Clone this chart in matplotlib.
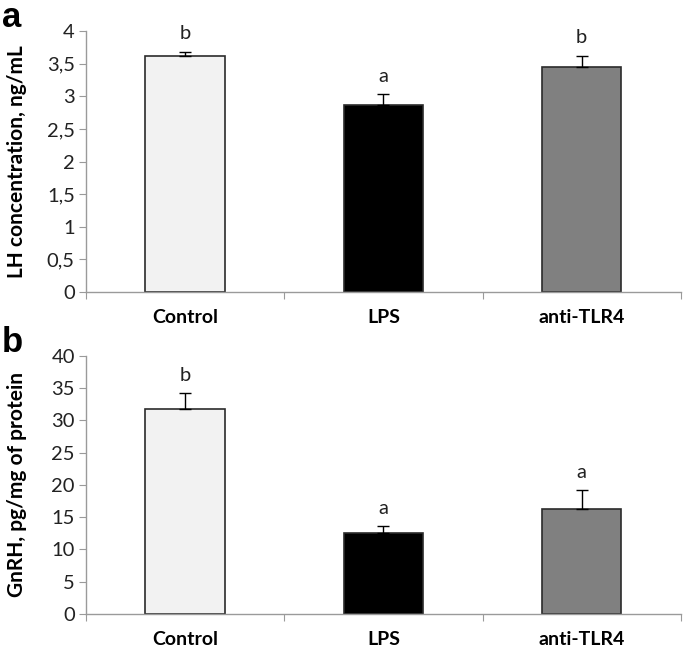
import matplotlib
matplotlib.use("Agg")
import matplotlib.pyplot as plt
import numpy as np

categories = ["Control", "LPS", "anti-TLR4"]
lh_values = [3.62, 2.86, 3.45]
lh_errors = [0.06, 0.17, 0.17]
lh_letters = ["b", "a", "b"]
gnrh_values = [31.8, 12.5, 16.3]
gnrh_errors = [2.5, 1.2, 2.9]
gnrh_letters = ["b", "a", "a"]
lh_ticks = [0, 0.5, 1, 1.5, 2, 2.5, 3, 3.5, 4]
lh_ticklabels = ["0", "0,5", "1", "1,5", "2", "2,5", "3", "3,5", "4"]
gnrh_ticks = [0, 5, 10, 15, 20, 25, 30, 35, 40]
gnrh_ticklabels = [str(t) for t in gnrh_ticks]

colors = ["#f2f2f2", "#000000", "#808080"]
font = ["Lato", "DejaVu Sans"]
plt.rcParams["font.family"] = font

fig = plt.figure(figsize=(6.85, 6.52), dpi=100)

def panel(rect, vals, errs, letters, ticks, ticklabels, ymax, ylabel, offset):
    ax = fig.add_axes(rect)
    x = np.arange(len(categories)) + 0.5
    ax.bar(x, vals, width=0.4, color=colors, edgecolor="#2b2b2b", linewidth=1.2, zorder=2)
    ax.errorbar(x, vals, yerr=[np.zeros(len(errs)), errs], fmt="none", ecolor="black",
                elinewidth=1.0, capsize=4, capthick=1.0, zorder=3)
    for xi, v, e, l in zip(x, vals, errs, letters):
        ax.text(xi, v + e + offset, l, ha="center", va="center", fontsize=14.5, color="#222222")
    ax.set_xlim(0, 3)
    ax.set_ylim(0, ymax)
    ax.set_yticks(ticks)
    ax.set_yticklabels(ticklabels, fontsize=14.5, color="#222222")
    ax.set_xticks([0, 1, 2, 3])
    ax.set_xticklabels([])
    ax.set_xticks(x, minor=True)
    ax.set_xticklabels(categories, minor=True, fontsize=14, fontweight="bold")
    ax.tick_params(axis="x", which="minor", length=0, pad=12)
    ax.tick_params(axis="x", which="major", length=5, color="#9a9a9a", direction="out")
    ax.tick_params(axis="y", length=5, color="#9a9a9a", direction="out", pad=3)
    for s in ["top", "right"]:
        ax.spines[s].set_visible(False)
    for s in ["left", "bottom"]:
        ax.spines[s].set_color("#9a9a9a")
        ax.spines[s].set_linewidth(1.0)
    ax.set_ylabel(ylabel, fontsize=15, fontweight="bold")
    ax.yaxis.set_label_coords(-0.099, 0.5)
    return ax

axa = panel([0.1255, 0.552, 0.8685, 0.4005], lh_values, lh_errors, lh_letters,
            lh_ticks, lh_ticklabels, 4, "LH concentration, ng/mL", 0.28)
axb = panel([0.1255, 0.0583, 0.8685, 0.3957], gnrh_values, gnrh_errors, gnrh_letters,
            gnrh_ticks, gnrh_ticklabels, 40, "GnRH, pg/mg of protein", 2.7)

fig.text(0.003, 0.998, "a", fontsize=25, fontweight="bold", ha="left", va="top",
         family=["Liberation Sans"])
fig.text(0.003, 0.500, "b", fontsize=25, fontweight="bold", ha="left", va="top",
         family=["Liberation Sans"])

fig.savefig("out.png", dpi=100)
